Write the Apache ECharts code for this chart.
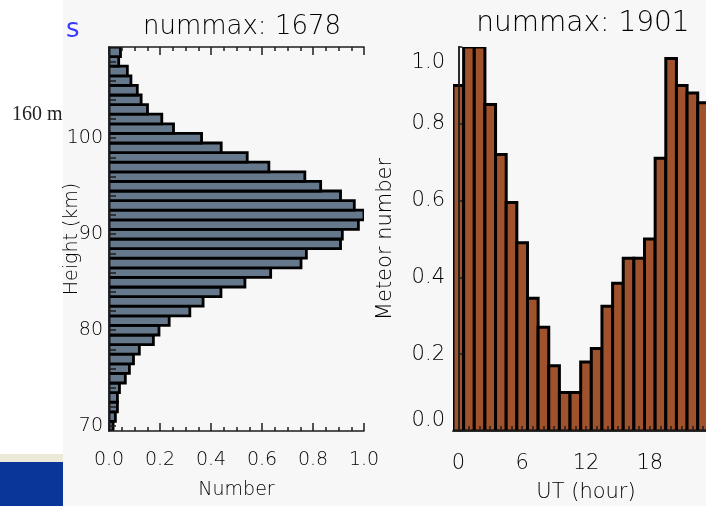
<!DOCTYPE html>
<html>
<head>
<meta charset="utf-8">
<script src="https://cdn.jsdelivr.net/npm/echarts@6/dist/echarts.min.js"></script>
<style>
  html, body { margin: 0; padding: 0; background: #f7f7f7; }
  #chart { width: 706px; height: 506px; }
</style>
</head>
<body>
<div id="chart"></div>
<script>
// height distribution: centre of each 1 km bin and normalised count
const heightKm = [70, 71, 72, 73, 74, 75, 76, 77, 78, 79,
                  80, 81, 82, 83, 84, 85, 86, 87, 88, 89,
                  90, 91, 92, 93, 94, 95, 96, 97, 98, 99,
                  100, 101, 102, 103, 104, 105, 106, 107, 108, 109];
const heightNumber = [0.016, 0.025, 0.033, 0.033, 0.041, 0.064, 0.080, 0.096, 0.119, 0.174,
                      0.196, 0.236, 0.317, 0.369, 0.439, 0.533, 0.634, 0.753, 0.774, 0.908,
                      0.915, 0.978, 1.000, 0.962, 0.908, 0.830, 0.768, 0.627, 0.542, 0.440,
                      0.363, 0.253, 0.207, 0.151, 0.126, 0.111, 0.086, 0.072, 0.038, 0.045];
const heightLabels = [70, 80, 90, 100];
const heightTicks = [70, 72, 74, 76, 78, 80, 82, 84, 86, 88, 90, 92, 94, 96, 98,
                     100, 102, 104, 106, 108];

// diurnal distribution: UT hour and normalised count
const utHour = [0, 1, 2, 3, 4, 5, 6, 7, 8, 9, 10, 11,
                12, 13, 14, 15, 16, 17, 18, 19, 20, 21, 22, 23];
const meteorNumber = [0.90, 1.00, 1.00, 0.85, 0.72, 0.595, 0.49, 0.346, 0.27, 0.17, 0.10, 0.10,
                      0.18, 0.215, 0.325, 0.385, 0.45, 0.45, 0.50, 0.71, 0.97, 0.90, 0.88, 0.855];
const hourLabels = [0, 6, 12, 18];

const leftTitle = 'nummax: 1678';
const rightTitle = 'nummax: 1901';

const FONT = 'DejaVu Sans';
const INK = '#000';
const LINE = '#1e1e1e';

const chart = echarts.init(document.getElementById('chart'));

function heightBar(params, api) {
    const h = api.value(0);
    const v = api.value(1);
    const a = api.coord([0, h - 0.5]);
    const b = api.coord([v, h + 0.5]);
    return {
        type: 'rect',
        shape: { x: a[0], y: b[1], width: b[0] - a[0], height: a[1] - b[1] },
        style: { fill: '#66788b', stroke: '#000', lineWidth: 2.8 },
    };
}

function hourBar(params, api) {
    const h = api.value(0);
    const v = api.value(1);
    const a = api.coord([h - 0.5, 0]);
    const b = api.coord([h + 0.5, v]);
    return {
        type: 'rect',
        shape: { x: a[0], y: b[1], width: b[0] - a[0], height: a[1] - b[1] },
        style: { fill: '#a0522d', stroke: '#000', lineWidth: 3 },
    };
}

const frameLine = { show: true, lineStyle: { color: LINE, width: 1.5 } };
const tickLine = { color: LINE, width: 1.5 };
const text = (size) => ({ color: INK, fontFamily: FONT, fontSize: size, fontWeight: 200 });

const option = {
    backgroundColor: '#f7f7f7',
    animation: false,
    title: [
        { text: leftTitle, left: 237, top: 9, textAlign: 'center', textStyle: text(26) },
        { text: rightTitle, left: 578, top: 5, textAlign: 'center', textStyle: text(28) },
    ],
    grid: [
        { left: 109, top: 47, width: 255, height: 384, outerBoundsMode: 'none' },
        { left: 453, top: 47, width: 266, height: 384, outerBoundsMode: 'none' },
    ],
    xAxis: [
        {
            gridIndex: 0, type: 'value', position: 'bottom', min: 0, max: 1, interval: 0.2, z: 5,
            axisLine: frameLine,
            axisTick: { show: true, inside: true, length: 8, lineStyle: tickLine },
            minorTick: { show: true, splitNumber: 4, length: 4, lineStyle: tickLine },
            splitLine: { show: false },
            axisLabel: { ...text(19), margin: 20, formatter: (v) => v.toFixed(1) },
            name: 'Number', nameLocation: 'middle', nameGap: 50, nameMoveOverlap: false,
            nameTextStyle: text(19),
        },
        {
            gridIndex: 0, type: 'value', position: 'top', min: 0, max: 1, interval: 0.2, z: 5,
            axisLine: frameLine,
            axisTick: { show: true, inside: true, length: 8, lineStyle: tickLine },
            minorTick: { show: true, splitNumber: 4, length: 4, lineStyle: tickLine },
            splitLine: { show: false },
            axisLabel: { show: false },
        },
        {
            gridIndex: 1, type: 'value', position: 'bottom', min: -0.5, max: 24.5, z: 5,
            axisLine: frameLine,
            axisTick: { show: true, inside: true, length: 5, customValues: utHour, lineStyle: tickLine },
            splitLine: { show: false },
            axisLabel: { ...text(21), margin: 22, customValues: hourLabels },
            name: 'UT (hour)', nameLocation: 'middle', nameGap: 51, nameMoveOverlap: false,
            nameTextStyle: text(21),
        },
        {
            gridIndex: 1, type: 'value', position: 'top', min: -0.5, max: 24.5, z: 5,
            axisLine: frameLine,
            axisTick: { show: false },
            splitLine: { show: false },
            axisLabel: { show: false },
        },
    ],
    yAxis: [
        {
            gridIndex: 0, type: 'value', position: 'left', min: 69.5, max: 109.5, z: 5,
            axisLine: frameLine,
            axisTick: { show: true, inside: true, length: 7, customValues: heightTicks, lineStyle: tickLine },
            splitLine: { show: false },
            axisLabel: { ...text(19), margin: 6, padding: [6, 0, 0, 0], customValues: heightLabels },
            name: 'Height (km)', nameLocation: 'middle', nameGap: 27, nameMoveOverlap: false,
            nameTextStyle: text(19),
        },
        {
            gridIndex: 0, type: 'value', position: 'right', min: 69.5, max: 109.5, z: 5,
            axisLine: frameLine,
            axisTick: { show: false },
            splitLine: { show: false },
            axisLabel: { show: false },
        },
        {
            gridIndex: 1, type: 'value', position: 'left', min: 0, max: 1, interval: 0.2, z: 5,
            axisLine: frameLine,
            axisTick: { show: true, inside: true, length: 4, lineStyle: tickLine },
            splitLine: { show: false },
            axisLabel: {
                ...text(21), margin: 8, padding: [5, 0, 0, 0], formatter: (v) => v.toFixed(1),
                verticalAlignMinLabel: 'bottom', verticalAlignMaxLabel: 'top',
            },
            name: 'Meteor number', nameLocation: 'middle', nameGap: 57, nameMoveOverlap: false,
            nameTextStyle: text(21),
        },
        {
            gridIndex: 1, type: 'value', position: 'right', min: 0, max: 1, z: 5,
            axisLine: frameLine,
            axisTick: { show: false },
            splitLine: { show: false },
            axisLabel: { show: false },
        },
    ],
    series: [
        {
            type: 'custom',
            xAxisIndex: 0,
            yAxisIndex: 0,
            renderItem: heightBar,
            data: heightKm.map((h, i) => [h, heightNumber[i]]),
            encode: { x: 1, y: 0 },
            clip: true,
            z: 2,
        },
        {
            type: 'custom',
            xAxisIndex: 2,
            yAxisIndex: 2,
            renderItem: hourBar,
            data: utHour.map((h, i) => [h, meteorNumber[i]]),
            encode: { x: 0, y: 1 },
            clip: true,
            z: 2,
        },
    ],
    // bits of the surrounding slide that show in the screenshot
    graphic: [
        { type: 'rect', left: 0, top: 0, shape: { width: 63, height: 506 }, style: { fill: '#ffffff' }, z: -1 },
        { type: 'rect', left: 0, top: 454, shape: { width: 63, height: 8 }, style: { fill: '#ece9d8' }, z: -1 },
        { type: 'rect', left: 0, top: 462, shape: { width: 63, height: 44 }, style: { fill: '#0a3599' }, z: -1 },
        { type: 'text', left: 12, top: 105,
          style: { text: '160 m', fill: '#222', font: '20px "Liberation Serif"' } },
        { type: 'text', left: 66, top: 17,
          style: { text: 's', fill: '#3a3aff', font: '26px "DejaVu Sans"' } },
    ],
};

chart.setOption(option);
</script>
</body>
</html>
